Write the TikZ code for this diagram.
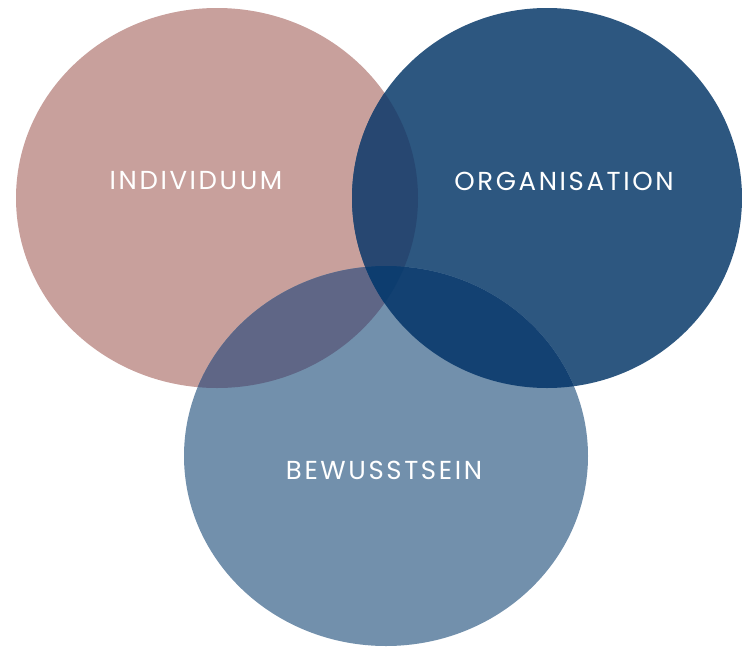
\documentclass[tikz,border=0pt]{standalone}
\usepackage{fontspec}
\setmainfont{Poppins}[LetterSpace=10]
\usepackage{tikz}
\definecolor{rose}{HTML}{C8A09C}
\definecolor{navy}{HTML}{2D5780}
\definecolor{steel}{HTML}{7290AC}
\definecolor{roseNavy}{HTML}{274771}
\definecolor{roseSteel}{HTML}{5F6686}
\definecolor{navySteel}{HTML}{134172}
\definecolor{allThree}{HTML}{0D3D6F}
\tikzset{label/.style={text=white,font=\fontsize{26}{28}\selectfont}}
\newcommand{\indiv}{(217,198) ellipse [x radius=201,y radius=190]}
\newcommand{\organ}{(547,198) ellipse [x radius=195,y radius=190]}
\newcommand{\bewus}{(386,456) ellipse [x radius=202,y radius=190]}

\begin{document}
\begin{tikzpicture}[x=1pt,y=-1pt]
\useasboundingbox (0,0) rectangle (742,646);
\fill[rose] \indiv;
\fill[navy] \organ;
\fill[steel] \bewus;
% overlaps
\begin{scope}\clip \indiv; \fill[roseNavy] \organ; \fill[roseSteel] \bewus; \end{scope}
\begin{scope}\clip \organ; \fill[navySteel] \bewus; \end{scope}
\begin{scope}\clip \indiv; \clip \organ; \fill[allThree] \bewus; \end{scope}
\node[label](individuum)at(196,181){INDIVIDUUM};
\node[label](organisation)at(564,181){ORGANISATION};
\node[label](bewusstsein)at(384,470){BEWUSSTSEIN};
\end{tikzpicture}
\end{document}
